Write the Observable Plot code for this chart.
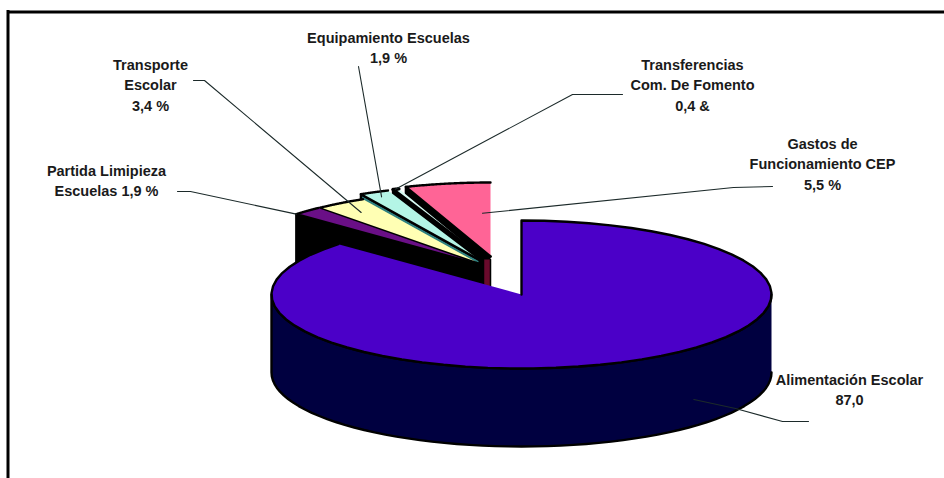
<!DOCTYPE html>
<html><head><meta charset="utf-8">
<script src="https://cdn.jsdelivr.net/npm/d3@7"></script>
<script src="https://cdn.jsdelivr.net/npm/@observablehq/plot@0.6"></script>
<style>html,body{margin:0;padding:0;background:#fff}svg{display:block}</style>
</head><body><div id="chart"></div>
<script>
// Data (clockwise from 12 o'clock)
const categories = ["Alimentación Escolar","Partida Limipieza Escuelas","Transporte Escolar","Equipamiento Escuelas","Transferencias Com. De Fomento","Gastos de Funcionamiento CEP"];
const values = [87.0, 1.9, 3.4, 1.9, 0.4, 5.5];
const labels = ["Alimentación Escolar\n87,0","Partida Limipieza\nEscuelas 1,9 %","Transporte\nEscolar\n3,4 %","Equipamiento Escuelas\n1,9 %","Transferencias\nCom. De Fomento\n0,4 &","Gastos de\nFuncionamiento CEP\n5,5 %"];

// Layout
const W = 944, H = 478;
const pie = {cx: 521, cy: 294, rx: 250, ry: 74, depth: 78};
const apexes = [[521,294],[479,264],[480,264],[478,259],[483,258],[490,256]];
const topColors = ["#4b00c8","#6a0f86","#ffffb4","#b4f5e6","#d8fbf4","#ff6496"];
const sideColors = ["#000040","#000000","#000000","#2f8080","#000000","#000000"];
const labelAt = [[849,388],[106,179],[150,83],[388,46],[692,83],[822,162]];
// leader: elbow points from the label, then the position inside the slice (t along its sweep, r along its radius, drop down the wall)
const leaders = [
  {via:[[808,421],[782,421],[735,408]], t:.436, r:1, drop:.66},
  {via:[[177,191],[190,191]], t:0, r:1, drop:0},
  {via:[[193,80],[204,80]], t:.5, r:.85, drop:0},
  {via:[[358,66]], t:.5, r:.93, drop:0},
  {via:[[622,94],[572,94]], t:.4, r:1, drop:0},
  {via:[[772,186],[733,187]], t:.84, r:.585, drop:0}
];

const total = d3.sum(values);
let acc = 0;
const sweeps = values.map(v => { const a0 = acc; acc += v; return [a0/total*2*Math.PI, acc/total*2*Math.PI]; });
const rim = (i, a, r = 1, drop = 0) => [apexes[i][0] + r*pie.rx*Math.sin(a), apexes[i][1] - r*pie.ry*Math.cos(a) + drop];
const arc = (i, a0, a1, drop = 0) => d3.range(0, 61).map(k => rim(i, a0 + (a1-a0)*k/60, 1, drop));

const faces = [];
const faceColors = new Map();
function face(id, color, pts, sw = 2.4) { faceColors.set(id, color); pts.forEach(([x,y]) => faces.push({id, x, y, sw})); }

// back slices first, each with its radial wall, then its top
for (const i of [5,4,3,2,1]) {
  const [a0,a1] = sweeps[i];
  const A = apexes[i];
  face(categories[i]+" lado", sideColors[i], [A, rim(i,a0), rim(i,a0,1,pie.depth), [A[0],A[1]+pie.depth]]);
  face(categories[i], topColors[i], [A, ...arc(i,a0,a1)], i === 4 ? 3.4 : 2.4);
}
// inner wall seen next to the tip of the largest exploded slice
face("Gastos interior", "#6a0a2c", [[apexes[5][0],apexes[5][1]+3],[apexes[5][0],apexes[5][1]+pie.depth],[apexes[5][0]-7,apexes[5][1]+pie.depth],[apexes[5][0]-7,apexes[5][1]+3]], 1.5);
// main slice: wall across the front, then top
const [m0,m1] = sweeps[0];
face("Alimentación lado", sideColors[0], [...arc(0,Math.PI/2,3*Math.PI/2), ...arc(0,3*Math.PI/2,Math.PI/2,pie.depth)]);
face(categories[0], topColors[0], [[pie.cx,pie.cy], ...arc(0,m0,m1)]);

const leaderPts = leaders.flatMap((l,i) => {
  const [a0,a1] = sweeps[i];
  return [...l.via, rim(i, a0+(a1-a0)*l.t, l.r, l.drop*pie.depth)].map(([x,y]) => ({i,x,y}));
});
const labelRows = labels.map((text,i) => ({text, x: labelAt[i][0], y: labelAt[i][1]}));

const chart = Plot.plot({
  width: W, height: H, margin: 0,
  x: {domain:[0,W], range:[0,W], axis:null},
  y: {domain:[0,H], range:[0,H], axis:null},
  color: {domain:[...faceColors.keys()], range:[...faceColors.values()]},
  style: {background:"#fff"},
  marks: [
    Plot.ruleY([11.5], {x1:7.5, x2:W, stroke:"#000", strokeWidth:3}),
    Plot.ruleX([7.5], {y1:10, y2:H, stroke:"#000", strokeWidth:3}),
    Plot.line(faces, {x:"x", y:"y", z:"id", fill:"id", stroke:"#000", strokeWidth:"sw", strokeLinejoin:"round"}),
    Plot.line(leaderPts, {x:"x", y:"y", z:"i", stroke:"#1c2a2a", strokeWidth:1.1}),
    Plot.text(labelRows, {x:"x", y:"y", text:"text", fontSize:14.5, fontWeight:"bold", fontFamily:"Liberation Sans", lineHeight:1.42, fill:"#1a1a1a"})
  ]
});
document.getElementById("chart").append(chart);
</script></body></html>
